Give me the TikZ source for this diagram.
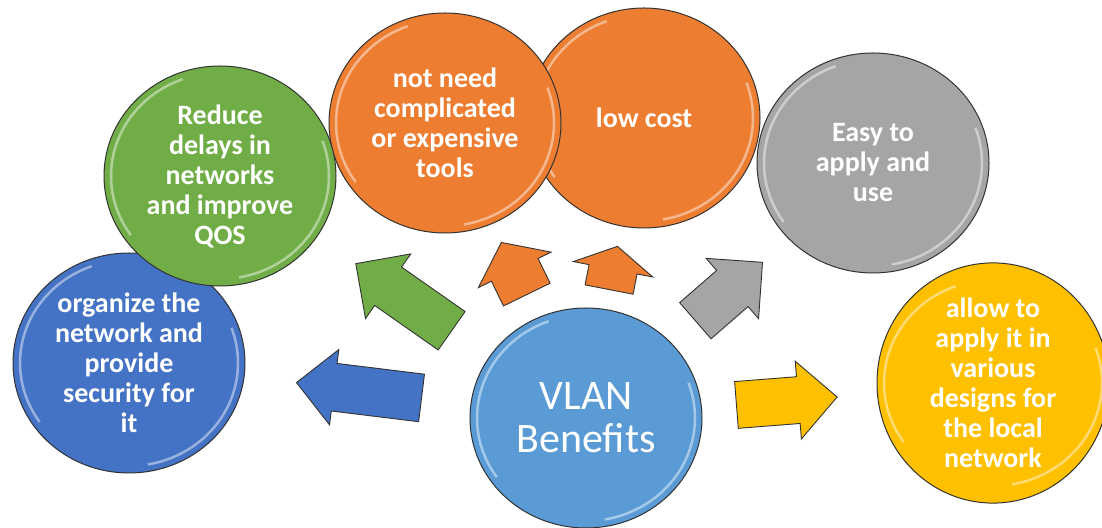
\documentclass[tikz,border=0pt]{standalone}
\usepackage{fontspec}
\setmainfont{Carlito}
\usetikzlibrary{shapes.geometric,shapes.arrows}

\definecolor{benblue}{HTML}{4472C4}
\definecolor{bengreen}{HTML}{70AD47}
\definecolor{benorange}{HTML}{ED7D31}
\definecolor{bengray}{HTML}{A5A5A5}
\definecolor{benyellow}{HTML}{FFC000}
\definecolor{benlight}{HTML}{5B9BD5}
\definecolor{rim}{HTML}{333333}

\tikzset{
  bubble/.style={ellipse, draw=rim, line width=1pt, fill=#1,
    minimum width=232pt, minimum height=220pt, inner sep=0pt,
    align=center, text=white, font=\fontsize{28}{30}\selectfont\bfseries,
    path picture={
      \draw[white, opacity=.45, line width=2.5pt] (path picture bounding box.center)
        ++(110:109pt and 103pt) arc[start angle=110, end angle=215, x radius=109pt, y radius=103pt];
      \draw[white, opacity=.45, line width=2.5pt] (path picture bounding box.center)
        ++(-80:109pt and 103pt) arc[start angle=-80, end angle=20, x radius=109pt, y radius=103pt];
    }},
  blockarrow/.style={single arrow, draw=rim, line width=.9pt, fill=#1,
    inner xsep=0pt, anchor=tail}
}

\begin{document}
\begin{tikzpicture}[x=1pt,y=1pt]
                \useasboundingbox (0,0) rectangle (1102,527);

                % centres of the bubbles
                \coordinate (c-lowcost) at (644,409);
                \coordinate (c-tools) at (445,404);
                \coordinate (c-organize) at (129,164);
                \coordinate (c-delays) at (220,351);
                \coordinate (c-easy) at (873,364);
                \coordinate (c-designs) at (993,144);

                % tails of the arrows
                \coordinate (t-organize) at (422,129);
                \coordinate (t-delays) at (452,196);
                \coordinate (t-tools) at (527,232);
                \coordinate (t-lowcost) at (609,237);
                \coordinate (t-easy) at (695,206);
                \coordinate (t-designs) at (736,122);

                \foreach \name/\col/\txt in {lowcost/benorange/{low cost},
                  tools/benorange/{not need\\complicated\\or expensive\\tools},
                  organize/benblue/{organize the\\network and\\provide\\security for\\it},
                  delays/bengreen/{Reduce\\delays in\\networks\\and improve\\QOS},
                  easy/bengray/{Easy to\\apply and\\use},
                  designs/benyellow/{allow to\\apply it in\\various\\designs for\\the local\\network}}
                \node[bubble=\col] (\name) at (c-\name) {\txt};

                \node[bubble=benlight, font=\fontsize{42}{43}\selectfont] (vlan) at (586,109) {VLAN\\Benefits};

                \foreach \name/\col/\ang/\len/\sh/\ext/\tip in {organize/benblue/173/126/23.5/14/90,
                  delays/bengreen/145/117/23/16/90,
                  tools/benorange/116/58/25.5/14.5/106,
                  lowcost/benorange/79/44/24/16/120,
                  easy/bengray/41/89/23.5/16/90,
                  designs/benyellow/4.5/101/23/15.5/90}
                \node[blockarrow=\col, rotate=\ang, minimum height=\len pt, inner ysep=\sh pt,
                  single arrow head extend=\ext pt, single arrow tip angle=\tip] (a-\name) at (t-\name) {};
\end{tikzpicture}
\end{document}
